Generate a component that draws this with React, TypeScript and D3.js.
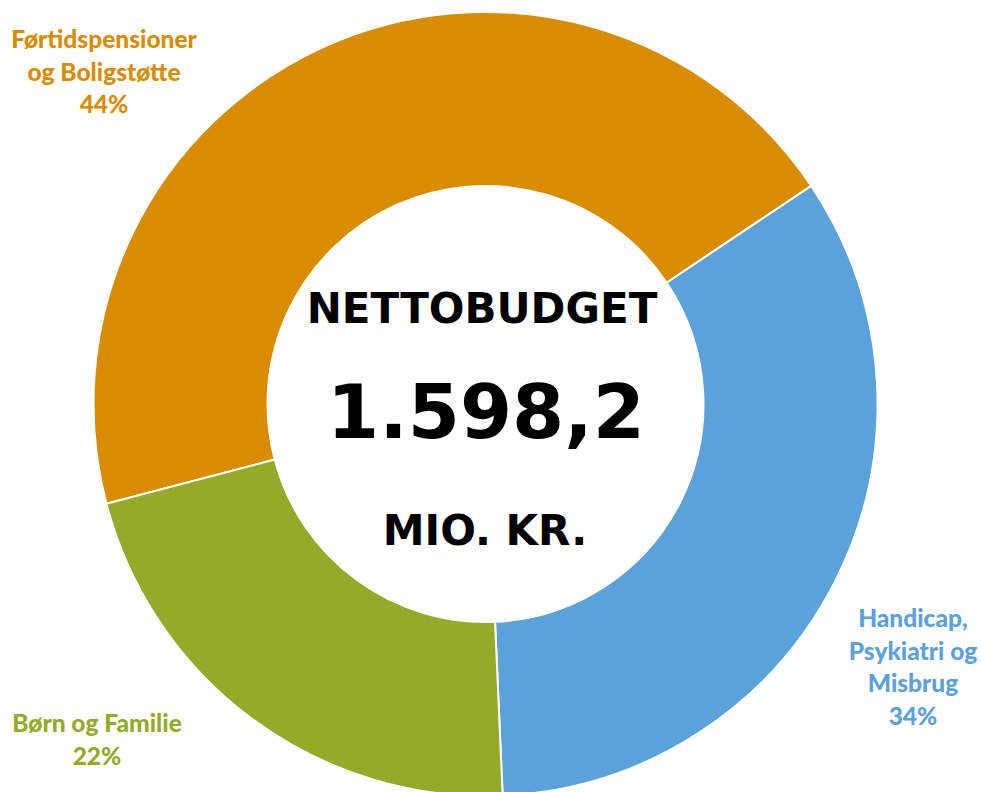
import React, { useEffect, useRef } from "react";
import * as d3 from "d3";

// budget areas (mio. kr.)
const categories = ["Førtidspensioner og Boligstøtte", "Handicap, Psykiatri og Misbrug", "Børn og Familie"];
const values = [714.5, 538.5, 345.2];
const percentLabels = ["44%", "34%", "22%"];
const colors = ["#d98c00", "#5ba1da", "#95aa28"];

const labelLines = [
  ["Førtidspensioner", "og Boligstøtte", "44%"],
  ["Handicap,", "Psykiatri og", "Misbrug", "34%"],
  ["Børn og Familie", "22%"],
];
const labelPos = [
  { x: 104, y: 48 },
  { x: 913, y: 627 },
  { x: 97, y: 732 },
];

const centerTitle = "NETTOBUDGET";
const centerValue = "1.598,2";
const centerUnit = "MIO. KR.";

const App = () => {
  const ref = useRef<SVGSVGElement | null>(null);
  const width = 981;
  const height = 792;
  const cx = 485.5;
  const cy = 404;
  const outerR = 392;
  const innerR = 218;

  useEffect(() => {
    const svg = d3.select(ref.current);
    svg.selectAll("*").remove();

    const start = (-104.75 * Math.PI) / 180;
    const pie = d3.pie<number>().sort(null).value((d) => d).startAngle(start).endAngle(start + 2 * Math.PI);
    const arc = d3.arc<d3.PieArcDatum<number>>().innerRadius(innerR).outerRadius(outerR);

    const chart = svg.append("g").attr("transform", `translate(${cx}, ${cy})`);
    chart.selectAll(".slice")
      .data(pie(values))
      .enter().append("path")
      .attr("class", "slice")
      .attr("d", arc)
      .attr("fill", (d, i) => colors[i])
      .attr("stroke", "#fff")
      .attr("stroke-width", 2);

    // category labels
    labelLines.forEach((lines, i) => {
      const t = svg.append("text")
        .attr("text-anchor", "middle")
        .attr("font-family", "Lato, 'Open Sans', sans-serif")
        .attr("font-weight", 900)
        .attr("font-size", 24.5)
        .attr("fill", colors[i]);
      lines.forEach((line, j) => {
        t.append("tspan")
          .attr("x", labelPos[i].x)
          .attr("y", labelPos[i].y + j * 32.5)
          .text(line);
      });
      t.append("title").text(`${categories[i]} ${percentLabels[i]}`);
    });

    const center = svg.append("g")
      .attr("font-family", "'DejaVu Sans', Verdana, sans-serif")
      .attr("font-weight", "bold")
      .attr("text-anchor", "middle")
      .attr("fill", "#000");
    center.append("text").attr("x", 482).attr("y", 323).attr("font-size", 42).text(centerTitle);
    center.append("text").attr("x", 486).attr("y", 438).attr("font-size", 75).text(centerValue);
    center.append("text").attr("x", 485).attr("y", 545).attr("font-size", 42).text(centerUnit);
  }, []);

  return (
    <svg ref={ref} width={width} height={height} style={{ position: "absolute", left: 0, top: 0 }}></svg>
  );
};

export default App;
